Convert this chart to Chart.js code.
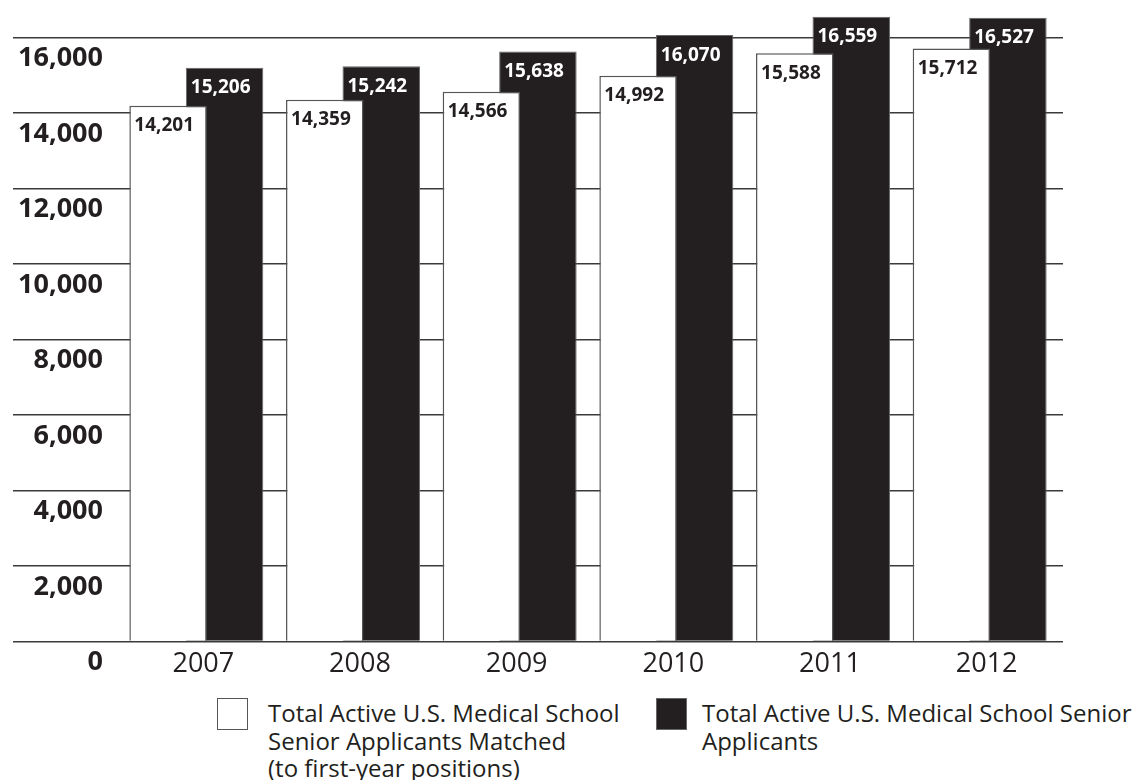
<!DOCTYPE html>
<html>
<head>
<meta charset="utf-8">
<script src="https://cdn.jsdelivr.net/npm/chart.js@4.4.1/dist/chart.umd.min.js"></script>
<style>
  html, body { margin: 0; padding: 0; background: #fff; }
  #wrap { position: relative; width: 1137px; height: 780px; font-family: "Open Sans", sans-serif; color: #231f20; }
  #chartBox { position: absolute; left: 0; top: 0; width: 1137px; height: 690px; }
  .key { position: absolute; top: 698px; width: 31px; height: 32px; box-sizing: border-box; }
  .txt { position: absolute; top: 699px; font-size: 24px; line-height: 27.5px; white-space: nowrap; }
</style>
</head>
<body>
<div id="wrap">
  <div id="chartBox"><canvas id="chart"></canvas></div>
  <div class="key" style="left:217px; border:1.5px solid #555; background:#fff;"></div>
  <div class="txt" style="left:268px;">Total Active U.S. Medical School<br>Senior Applicants Matched<br>(to first-year positions)</div>
  <div class="key" style="left:656px; background:#231f20; border:1px solid #666;"></div>
  <div class="txt" style="left:702px;">Total Active U.S. Medical School Senior<br>Applicants</div>
</div>
<script>
const years = ["2007", "2008", "2009", "2010", "2011", "2012"];
const matched = [14201, 14359, 14566, 14992, 15588, 15712];
const applicants = [15206, 15242, 15638, 16070, 16559, 16527];
const yMax = 17000;
const yLabelStep = 2000;

const ink = "#231f20";
const gridInk = "#3a3a3a";
const fontFamily = "'Open Sans', sans-serif";

const onStep = (v) => v % yLabelStep === 0 && v < yMax;

// value labels inside the top of each bar
const barLabels = {
  id: "barLabels",
  afterDatasetsDraw(chart) {
    const c = chart.ctx;
    c.save();
    c.font = "bold 19px " + fontFamily;
    c.textAlign = "left";
    c.textBaseline = "middle";
    chart.data.datasets.forEach((ds, i) => {
      const meta = chart.getDatasetMeta(i);
      c.fillStyle = i === 0 ? ink : "#ffffff";
      meta.data.forEach((bar, j) => {
        const p = bar.getProps(["x", "y", "width"], true);
        c.fillText(ds.data[j].toLocaleString("en-US"), p.x - p.width / 2 + 5, p.y + 20);
      });
    });
    c.restore();
  }
};

new Chart(document.getElementById("chart"), {
  type: "bar",
  data: {
    labels: years,
    datasets: [
      {
        label: "Total Active U.S. Medical School Senior Applicants Matched (to first-year positions)",
        data: matched,
        backgroundColor: "#ffffff",
        borderColor: "#555555",
        borderWidth: 1.5
      },
      {
        label: "Total Active U.S. Medical School Senior Applicants",
        data: applicants,
        backgroundColor: ink,
        borderColor: "#666666",
        borderWidth: 1
      }
    ]
  },
  options: {
    responsive: true,
    maintainAspectRatio: false,
    animation: false,
    categoryPercentage: 0.721,
    barPercentage: 1.372,
    layout: { padding: { left: 0, right: 74, top: 0, bottom: 2 } },
    plugins: {
      legend: { display: false },
      tooltip: { enabled: false }
    },
    scales: {
      x: {
        grid: { display: false, drawTicks: false },
        border: { display: false },
        ticks: {
          color: ink,
          font: { family: fontFamily, size: 27 },
          padding: 7,
          labelOffset: 7
        }
      },
      y: {
        min: 0,
        max: yMax,
        grid: { color: gridInk, lineWidth: 1.5, tickLength: 105, tickColor: gridInk },
        border: { display: false },
        ticks: {
          stepSize: 1000,
          maxTicksLimit: 20,
          color: ink,
          font: { family: fontFamily, size: 27, weight: "bold" },
          padding: -90,
          labelOffset: 21,
          // only every 2,000 gets a label and a grid line
          callback: (v) => onStep(v) ? v.toLocaleString("en-US") : null
        },
        afterFit(scale) {
          scale.width = 118;
          scale.paddingTop = 0;
          scale.paddingBottom = 0;
        }
      },
      // short stubs so the grid lines run a little past the last bar
      yRight: {
        position: "right",
        min: 0,
        max: yMax,
        grid: {
          drawOnChartArea: false,
          tickLength: 5,
          lineWidth: 1.5,
          tickColor: (ctx) => onStep(ctx.tick.value) ? gridInk : "rgba(0,0,0,0)"
        },
        border: { display: false },
        ticks: { display: false, stepSize: 1000, maxTicksLimit: 20 },
        afterFit(scale) {
          scale.width = 5;
          scale.paddingTop = 0;
          scale.paddingBottom = 0;
        }
      }
    }
  },
  plugins: [barLabels]
});
</script>
</body>
</html>
